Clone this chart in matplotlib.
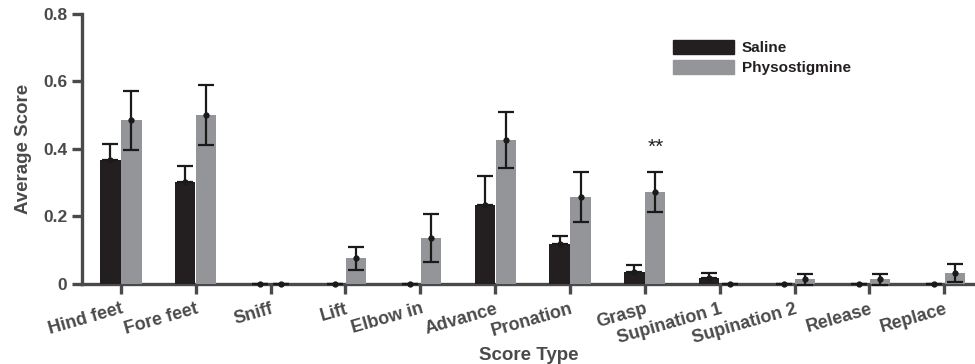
import numpy as np
import matplotlib
matplotlib.use("Agg")
import matplotlib.pyplot as plt
import matplotlib.transforms as mtransforms
from matplotlib.patches import Patch

plt.rcParams['font.family'] = ['Liberation Sans', 'DejaVu Sans']
plt.rcParams['font.weight'] = 'bold'
plt.rcParams['axes.labelweight'] = 'bold'

categories = ["Hind feet", "Fore feet", "Sniff", "Lift", "Elbow in", "Advance",
              "Pronation", "Grasp", "Supination 1", "Supination 2", "Release", "Replace"]
saline = [0.367, 0.302, 0.0, 0.0, 0.0, 0.233, 0.118, 0.035, 0.017, 0.0, 0.0, 0.0]
saline_err = [0.047, 0.048, 0.0, 0.0, 0.0, 0.087, 0.024, 0.020, 0.016, 0.0, 0.0, 0.0]
physo = [0.485, 0.500, 0.0, 0.076, 0.136, 0.426, 0.257, 0.273, 0.0, 0.013, 0.013, 0.032]
physo_err = [0.087, 0.090, 0.0, 0.034, 0.072, 0.082, 0.075, 0.059, 0.0, 0.016, 0.016, 0.027]
sig_label = "**"
sig_index = 7
sig_y = 0.405

AX = "#4a4a4a"
C_SAL = "#231f20"
C_PHY = "#939598"

fig = plt.figure(figsize=(9.75, 3.64), dpi=100)
ax = fig.add_axes([82 / 975, 1 - 283.7 / 364, 1 - 82 / 975, (283.7 - 14) / 364])

x = np.arange(len(categories))
w = 0.27
off = 0.14
ax.bar(x - off, saline, w, color=C_SAL, zorder=2)
ax.bar(x + off, physo, w, color=C_PHY, zorder=2)
# saline lower whisker sits on the black bar, so only the upper half shows
ax.errorbar(x - off, saline, yerr=[np.zeros(len(saline)), saline_err], fmt="o", color="#1a1a1a",
            ms=3.5, elinewidth=1.6, capsize=6, capthick=1.6, zorder=3, clip_on=False)
ax.errorbar(x + off, physo, yerr=physo_err, fmt="o", color="#1a1a1a",
            ms=3.5, elinewidth=1.6, capsize=6, capthick=1.6, zorder=3, clip_on=False)

ax.text(x[sig_index] + off, sig_y, sig_label, ha="center", va="center",
        fontsize=15, fontweight="normal", color="#231f20")

ax.set_xlim(-0.52, len(categories) - 1 + 0.41)
ax.set_ylim(0, 0.8)
ax.set_yticks([0, 0.2, 0.4, 0.6, 0.8])
ax.set_yticklabels(["0", "0.2", "0.4", "0.6", "0.8"], fontweight="bold")
ax.set_xticks(x)
ax.set_xticklabels(categories, rotation=16, ha="right", rotation_mode="anchor", fontweight="bold")
shift = mtransforms.ScaledTranslation(6 / 100, 0, fig.dpi_scale_trans)
for lab in ax.get_xticklabels():
    lab.set_transform(lab.get_transform() + shift)

for s in ("top", "right"):
    ax.spines[s].set_visible(False)
for s in ("left", "bottom"):
    ax.spines[s].set_color(AX)
    ax.spines[s].set_linewidth(2.4)
    ax.spines[s].set_zorder(1)
ax.tick_params(axis="both", color=AX, width=2.4, length=7, labelcolor=AX, labelsize=12.5)
ax.tick_params(axis="x", labelsize=13, pad=5)

ax.set_ylabel("Average Score", fontsize=13.5, color=AX, labelpad=8, fontweight="bold")
ax.set_xlabel("Score Type", fontsize=13.5, color=AX, labelpad=0, fontweight="bold")

handles = [Patch(color=C_SAL, label="Saline"), Patch(color=C_PHY, label="Physostigmine")]
leg = ax.legend(handles=handles, loc="upper left", bbox_to_anchor=(0.655, 0.925), frameon=False,
                fontsize=11, handlelength=4.0, handleheight=1.0, handletextpad=0.5,
                labelspacing=0.3, borderaxespad=0)
for t in leg.get_texts():
    t.set_fontweight("bold")
    t.set_color("#231f20")

fig.savefig("out.png", dpi=100)
